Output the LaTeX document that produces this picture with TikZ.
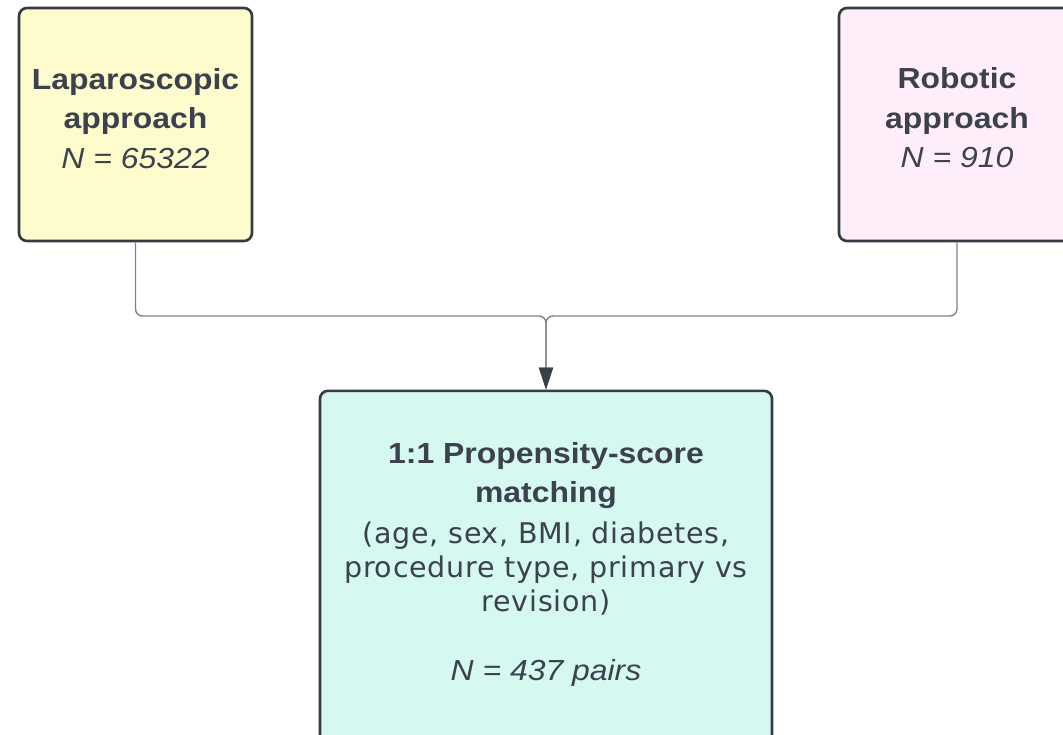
\documentclass[tikz,border=0pt]{standalone}
\usepackage{fontspec}
\setmainfont{Liberation Sans}[FakeStretch=1.1]
\newfontfamily\parenfont{DejaVu Sans}[LetterSpace=2.5]
\usetikzlibrary{arrows.meta}
\definecolor{txtc}{HTML}{3B414D}
\definecolor{edgec}{HTML}{363A42}
\definecolor{connc}{HTML}{7E848D}
\definecolor{tipc}{HTML}{3A3F4A}
\definecolor{lapfill}{HTML}{FEFBCC}
\definecolor{robfill}{HTML}{FFEEF9}
\definecolor{matchfill}{HTML}{D5F8F1}
\tikzset{
  boxshape/.style={draw=edgec, line width=2.6pt, rounded corners=8pt, inner sep=0pt},
  boldline/.style={anchor=base, inner sep=0pt, text=txtc, font=\fontsize{29}{35}\selectfont\bfseries},
  italline/.style={anchor=base, inner sep=0pt, text=txtc, font=\fontsize{29}{35}\selectfont\itshape},
  parenline/.style={anchor=base, inner sep=0pt, text=txtc, font=\fontsize{28.5}{34}\parenfont},
  conn/.style={draw=connc, line width=1.4pt, rounded corners=7pt, -{Triangle[length=22pt,width=14pt,fill=tipc,color=tipc]}}
}
\begin{document}
\begin{tikzpicture}[x=1pt,y=-1pt]
\useasboundingbox (0,0) rectangle (1063,734);
\clip (0,0) rectangle (1063,734);
% boxes
\node[boxshape, fill=lapfill, minimum width=233pt, minimum height=233pt] (lap) at (135.5,124.5) {};
\node[boxshape, fill=robfill, minimum width=236pt, minimum height=233pt] (rob) at (957,124.5) {};
\node[boxshape, fill=matchfill, anchor=north, minimum width=452pt, minimum height=380pt] (match) at (546,389.5) {};
% texts
\node[boldline] (lap1) at (135.5,89) {Laparoscopic};
\node[boldline] (lap2) at (135.5,128.5) {approach};
\node[italline] (lap3) at (135.5,168) {N = 65322};
\node[boldline] (rob1) at (957,88.5) {Robotic};
\node[boldline] (rob2) at (957,128) {approach};
\node[italline] (rob3) at (957,167.5) {N = 910};
\node[boldline] (m1) at (546,463.5) {1:1 Propensity-score};
\node[boldline] (m2) at (546,502.5) {matching};
\node[parenline] (m3) at (546,543.5) {(age, sex, BMI, diabetes,};
\node[parenline] (m4) at (546,577.5) {procedure type, primary vs};
\node[parenline] (m5) at (546,611.5) {revision)};
\node[italline] (m6) at (546,680) {N = 437 pairs};
% connectors
\coordinate (join) at (546,316);
\draw[conn] (lap.south) |- (join) -- (match.north);
\draw[conn] (rob.south) |- (join) -- (match.north);
\end{tikzpicture}
\end{document}
